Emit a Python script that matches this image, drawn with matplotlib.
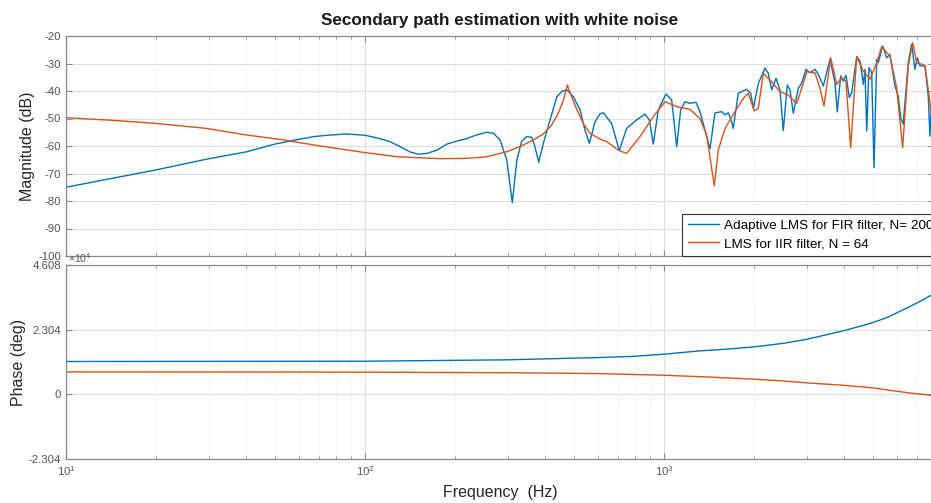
import numpy as np
import matplotlib
matplotlib.use("Agg")
from matplotlib import pyplot as plt
from matplotlib.ticker import LogLocator, NullFormatter, FixedLocator, FixedFormatter

plt.rcParams['font.family'] = ['Liberation Sans', 'DejaVu Sans']
plt.rcParams['mathtext.default'] = 'regular'
plt.rcParams['axes.unicode_minus'] = False

# magnitude of the FIR estimate (Hz, dB)
fir_freq = [10, 15, 20, 29.5, 40.2, 50, 56.1, 60.6, 67.2, 74.5, 86.9, 100, 112, 121, 131, 141,
            151, 161, 174, 188, 203, 219, 236, 255, 269, 283, 298, 311, 322, 334, 347, 361,
            370, 381, 395, 416, 438, 455, 473, 498, 524, 544, 563, 588, 611, 627,
            668, 709, 750, 810, 864, 893, 921, 957, 1016, 1061, 1103, 1137, 1176, 1222,
            1279, 1319, 1371, 1425, 1481, 1560, 1600, 1641, 1684, 1705, 1772, 1891, 1950,
            1990, 2068, 2177, 2233, 2292, 2370, 2443, 2506, 2585, 2639, 2707, 2813, 2887,
            2985, 3078, 3199, 3281, 3411, 3592, 3732, 3799, 3899, 3979, 4062, 4167, 4245,
            4411, 4525, 4642, 4702, 4764, 4849, 4951, 5040, 5146, 5210, 5388, 5556, 5700,
            5923, 6075, 6188, 6313, 6561, 6735, 6909, 7033, 7180, 7462, 7654, 7755, 7816, 7900]
fir_mag = [-75.0, -71.3, -68.7, -64.8, -62.1, -59.3, -58.2, -57.5, -56.6, -56.1, -55.6, -56.1,
           -57.3, -58.4, -60.2, -62.1, -63.0, -62.7, -61.5, -59.3, -58.2, -57.3, -56.0, -55.0,
           -55.4, -57.8, -65.1, -80.6, -65.1, -58.4, -56.6, -56.8, -60.2, -65.9, -59.0, -50.5,
           -42.1, -40.2, -39.6, -42.1, -46.9, -54.2, -59.0, -51.2, -48.3, -47.9,
           -51.8, -61.7, -53.6, -50.5, -48.4, -50.5,
           -59.3, -46.9, -41.1, -43.3, -60.2, -46.9, -43.9, -44.5, -44.1, -47.5, -54.2, -61.0,
           -48.0, -47.5, -48.7, -47.9, -51.2, -53.6, -40.8, -39.4, -40.8, -46.3, -37.2, -31.7,
           -33.6, -39.6, -35.4, -39.6, -54.4, -37.8, -39.6, -48.1, -39.0, -37.2, -32.1, -33.4,
           -32.1, -33.9, -38.2, -28.5, -37.0, -47.6, -34.5, -36.4, -34.3, -42.4, -40.6, -27.5,
           -29.1, -37.6, -32.1, -54.5, -31.5, -33.3, -67.9, -28.5, -29.7, -23.6, -27.9, -26.7,
           -38.2, -41.8, -49.7, -52.1, -29.7, -23.0, -32.1, -27.9, -30.9, -30.9, -41.8, -56.4,
           -48.0, -46.0]

# magnitude of the IIR estimate (Hz, dB)
iir_freq = [10, 15, 20, 29.5, 40.2, 52, 67.2, 100, 128, 178, 219, 255, 298, 330, 366, 395, 421,
            443, 461, 475, 491, 512, 537, 566, 611, 643,
            703, 750, 831, 921, 1008, 1103, 1222, 1319, 1389, 1473, 1519, 1600, 1728, 1842,
            1914, 2004, 2068, 2148, 2262, 2443, 2604, 2778, 2924, 3002, 3199, 3325, 3429,
            3611, 3781, 3930, 4062, 4211, 4411, 4642, 4887, 5146, 5346, 5700, 6000, 6284,
            6561, 6787, 7000, 7462, 7755, 7816, 7900]
iir_mag = [-49.7, -50.8, -51.8, -53.6, -56.0, -57.6, -59.6, -62.4, -63.9, -64.6, -64.5, -63.9,
           -62.1, -60.2, -57.8, -55.6, -52.4, -48.1, -43.3, -37.8, -42.1, -46.9, -51.8, -55.4,
           -57.5, -58.4, -61.5, -62.7, -56.6, -49.3, -43.9, -45.7, -46.7, -50.0,
           -56.0, -74.5, -61.5, -53.6, -47.5, -42.7, -40.8, -47.2, -46.3, -33.6, -36.0, -40.2,
           -41.5, -44.5, -37.2, -33.0, -33.4, -39.0, -45.5, -27.9, -37.6, -35.2, -36.5, -60.6,
           -27.5, -32.8, -35.7, -29.7, -23.9, -27.3, -38.8, -60.6, -30.9, -22.4, -29.7, -30.7,
           -44.2, -48.0, -50.0]

# phase (deg)
fir_phase_freq = [10, 100, 300, 600, 790, 1000, 1319, 1621, 2000, 2506, 3000, 3684, 4000, 4764,
                  5000, 5556, 6000, 6649, 7000, 7800, 8000]
fir_phase = [11700, 11800, 12300, 13100, 13530, 14300, 15480, 16090, 16900, 18170, 19600, 21800,
             22700, 24900, 25600, 27300, 29000, 31300, 32500, 35200, 35900]
iir_phase_freq = [10, 100, 300, 600, 1000, 1319, 2000, 2506, 3000, 4000, 5000, 6000, 6735, 7800,
                  8000]
iir_phase = [8000, 7900, 7700, 7400, 6800, 6300, 5400, 4750, 4100, 3200, 2300, 1100, 400, -300,
             -450]

blue = '#0072BD'
orange = '#D95319'
spine_c = '#8a8a8a'
label_c = '#555555'

fig = plt.figure(figsize=(9.31, 5.03), dpi=100)
W, H = 931.0, 503.0
left = 66 / W
width = 868 / W   # right edge runs just past the figure border
ax1 = fig.add_axes([left, 1 - 256 / H, width, 220 / H])
ax2 = fig.add_axes([left, 1 - 459 / H, width, 194 / H])

for ax in (ax1, ax2):
    ax.set_xscale('log')
    ax.set_xlim(10, 8000)
    ax.xaxis.set_major_locator(LogLocator(base=10, numticks=10))
    ax.xaxis.set_minor_locator(LogLocator(base=10, subs=np.arange(2, 10), numticks=20))
    ax.xaxis.set_minor_formatter(NullFormatter())
    ax.grid(True, which='major', color='#dedede', linewidth=0.8, linestyle='-')
    ax.grid(True, which='minor', axis='x', color='#e2e2e2', linewidth=0.7, linestyle=':')
    ax.set_axisbelow(True)
    ax.tick_params(which='both', direction='in', top=True, right=True, colors=spine_c,
                   labelcolor=label_c, labelsize=8.2)
    ax.tick_params(which='major', length=4)
    ax.tick_params(which='minor', length=2)
    for s in ax.spines.values():
        s.set_color(spine_c)
        s.set_linewidth(0.9)

ax1.plot(fir_freq, fir_mag, color=blue, linewidth=1.0, label='Adaptive LMS for FIR filter, N= 200')
ax1.plot(iir_freq, iir_mag, color=orange, linewidth=1.0, label='LMS for IIR filter, N = 64')
ax1.set_ylim(-100, -20)
ax1.set_yticks(range(-100, -19, 10))
ax1.tick_params(axis='x', labelbottom=False)
ax1.set_ylabel('Magnitude (dB)', fontsize=11.5, color='#262626', labelpad=2)
ax1.set_title('Secondary path estimation with white noise', fontsize=12.3, fontweight='bold',
              color='#1a1a1a', pad=8)
leg = ax1.legend(loc='lower left', bbox_to_anchor=((682 - 66) / 868, 0.0), fontsize=9.7,
                 fancybox=False, framealpha=1, edgecolor='#333333', borderaxespad=0,
                 handlelength=2.3, handletextpad=0.37, borderpad=0.43, labelspacing=0.42)
leg.get_frame().set_linewidth(0.8)

ax2.plot(fir_phase_freq, fir_phase, color=blue, linewidth=1.0)
ax2.plot(iir_phase_freq, iir_phase, color=orange, linewidth=1.0)
ax2.set_ylim(-23040, 46080)
ticks = [-23040, 0, 23040, 46080]
ax2.yaxis.set_major_locator(FixedLocator(ticks))
ax2.yaxis.set_major_formatter(FixedFormatter(['-2.304', '0', '2.304', '4.608']))
ax2.text(0.002, 1.0, r'$\times10^{4}$', transform=ax2.transAxes, fontsize=7.5,
         color=label_c, ha='left', va='bottom')
ax2.set_ylabel('Phase (deg)', fontsize=11.5, color='#262626', labelpad=2)
ax2.set_xlabel('Frequency  (Hz)', fontsize=11.5, color='#262626', labelpad=5)

fig.savefig('out.png', dpi=100)
